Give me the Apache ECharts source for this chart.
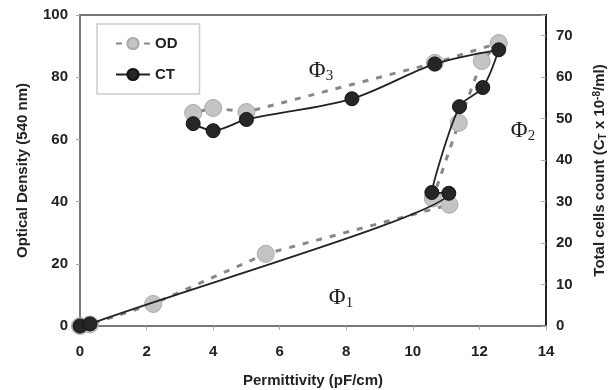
<!DOCTYPE html>
<html>
<head>
<meta charset="utf-8">
<script src="https://cdn.jsdelivr.net/npm/echarts@6/dist/echarts.min.js"></script>
<style>
  html, body { margin: 0; padding: 0; background: #fff; }
  #chart { width: 613px; height: 390px; }
</style>
</head>
<body>
<div id="chart"></div>
<script>
// OD (left axis), in drawing order
const odX = [0, 0.3, 2.2, 5.58, 11.1, 10.6, 11.38, 12.07, 12.58, 10.66, 5.0, 4.0, 3.4]
const odY = [0, 0.5, 7.1, 23.2, 39, 41, 65.3, 85.2, 91, 84.6, 68.8, 70.1, 68.5]

// CT (right axis), in drawing order
const ctX = [0, 0.3, 11.08, 10.57, 11.4, 12.1, 12.58, 10.66, 8.17, 5.0, 4.0, 3.4]
const ctY = [0, 0.5, 32, 32.2, 52.9, 57.5, 66.6, 63.2, 54.8, 49.8, 47.1, 48.8]

const phaseLabels = [
  { n: '3', x: 321, y: 71 },
  { n: '2', x: 523, y: 131 },
  { n: '1', x: 341, y: 298 },
]

const font = '"Liberation Sans", Arial, sans-serif'
const labelStyle = { color: '#222', fontFamily: font, fontWeight: 'bold', fontSize: 15 }

const chart = echarts.init(document.getElementById('chart'), null, { renderer: 'canvas' })

chart.setOption({
  animation: false,
  grid: {
    left: 80, right: 67, top: 15, bottom: 64,
    outerBoundsMode: 'none',
    containLabel: false,
    show: true, borderColor: '#777', borderWidth: 2,
  },
  legend: {
    orient: 'vertical',
    left: 97, top: 24,
    padding: [12, 22, 12, 18],
    itemGap: 16,
    itemWidth: 34, itemHeight: 14,
    borderColor: '#ccc', borderWidth: 1.5,
    textStyle: { ...labelStyle, fontSize: 15 },
    data: ['OD', 'CT'],
  },
  xAxis: {
    type: 'value',
    min: 0, max: 14, interval: 2,
    name: 'Permittivity (pF/cm)',
    nameLocation: 'middle', nameGap: 47,
    nameTextStyle: { ...labelStyle },
    axisLine: { lineStyle: { color: '#777', width: 2 } },
    axisTick: { show: true, length: 4, lineStyle: { color: '#aaa' } },
    axisLabel: { ...labelStyle, margin: 18 },
    splitLine: { show: false },
  },
  yAxis: [
    {
      type: 'value',
      min: 0, max: 100, interval: 20,
      name: 'Optical Density (540 nm)',
      nameLocation: 'middle', nameGap: 50,
      nameTextStyle: { ...labelStyle },
      axisLine: { show: true, lineStyle: { color: '#777', width: 2 } },
      axisTick: { show: true, length: 4, lineStyle: { color: '#aaa' } },
      axisLabel: { ...labelStyle, margin: 12 },
      splitLine: { show: false },
    },
    {
      type: 'value',
      min: 0, max: 75, interval: 10,
      position: 'right',
      name: 'Total cells count (C{sub|T} x 10{sup|-8}/ml)',
      nameLocation: 'middle', nameGap: 46, nameRotate: 90,
      nameTextStyle: {
        ...labelStyle,
        rich: {
          sub: { ...labelStyle, fontSize: 10, verticalAlign: 'bottom', padding: [6, 0, 0, 0] },
          sup: { ...labelStyle, fontSize: 10, verticalAlign: 'top', padding: [0, 0, 6, 0] },
        },
      },
      axisLine: { show: true, lineStyle: { color: '#222', width: 2 } },
      axisTick: { show: true, inside: true, length: 5, lineStyle: { color: '#aaa' } },
      axisLabel: { ...labelStyle, margin: 10, formatter: v => (v > 70 ? '' : v) },
      splitLine: { show: false },
    },
  ],
  series: [
    {
      name: 'OD',
      type: 'line',
      yAxisIndex: 0,
      data: odX.map((x, i) => [x, odY[i]]),
      symbol: 'circle', symbolSize: 17,
      itemStyle: { color: '#c4c4c4', borderColor: '#a8a8a8', borderWidth: 1 },
      lineStyle: { color: '#888', width: 3, type: [6, 8] },
      z: 2,
    },
    {
      name: 'CT',
      type: 'line',
      yAxisIndex: 1,
      data: ctX.map((x, i) => [x, ctY[i]]),
      smooth: 0.3,
      symbol: 'circle', symbolSize: 14,
      itemStyle: { color: '#262626', borderColor: '#111', borderWidth: 1 },
      lineStyle: { color: '#222', width: 1.8 },
      z: 3,
    },
  ],
  graphic: phaseLabels.map(p => ({
    type: 'text',
    x: p.x, y: p.y,
    style: {
      text: '{a|Φ}{s|' + p.n + '}',
      align: 'center', verticalAlign: 'middle',
      rich: {
        a: { fontFamily: '"Liberation Serif", "DejaVu Serif", serif', fontSize: 23, fill: '#222' },
        s: { fontFamily: '"Liberation Serif", "DejaVu Serif", serif', fontSize: 15, fill: '#222', padding: [11, 0, 0, 0] },
      },
    },
  })),
})
</script>
</body>
</html>
